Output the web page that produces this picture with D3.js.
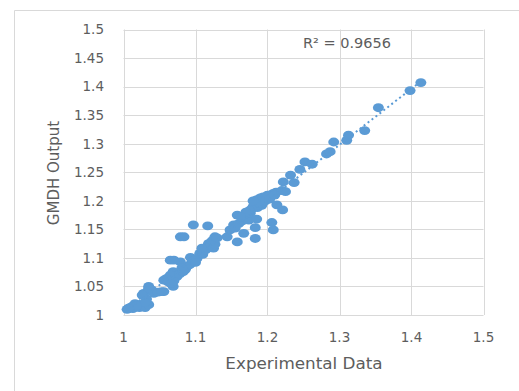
<!DOCTYPE html>
<html>
<head>
<meta charset="utf-8">
<script src="https://cdn.jsdelivr.net/npm/d3@7"></script>
<style>
  body { margin: 0; background: #fff; }
  text { font-family: "DejaVu Sans", sans-serif; fill: #5d5d5d; }
</style>
</head>
<body>
<div id="chart"></div>
<script>
// experimental data (x) vs GMDH output (y)
var expX = [1.005,1.008,1.012,1.016,1.020,1.013,1.022,1.026,1.030,1.035,1.032,1.028,1.035,1.038,1.042,1.048,1.056,1.030,1.018,1.007,1.035,1.026,1.053,
  1.060,1.056,1.062,1.069,1.066,1.070,1.074,1.069,1.065,1.078,1.083,1.088,1.086,1.092,1.079,1.065,1.070,1.093,1.097,1.102,1.100,1.106,1.110,1.114,1.118,1.120,1.125,1.127,1.123,1.127,1.130,1.079,1.084,1.097,1.117,1.081,1.109,
  1.144,1.148,1.153,1.155,1.160,1.158,1.167,1.158,1.165,1.170,1.174,1.176,1.178,1.180,1.182,1.185,1.188,1.190,1.186,1.192,1.195,1.194,1.198,1.200,1.185,1.183,1.183,1.206,1.208,1.213,1.221,1.208,1.212,1.220,1.225,1.222,1.237,1.232,1.245,1.252,1.262,1.282,1.287,1.292,1.310,1.3125,1.335,1.354,1.398,1.413,
  1.175,1.190,1.180,1.197,1.170,1.163,1.203,1.210];
var gmdhY = [1.010,1.012,1.015,1.020,1.018,1.011,1.013,1.015,1.013,1.018,1.028,1.038,1.050,1.045,1.038,1.040,1.041,1.022,1.016,1.012,1.047,1.035,1.041,
  1.064,1.061,1.058,1.050,1.055,1.060,1.067,1.076,1.070,1.072,1.076,1.085,1.080,1.088,1.093,1.096,1.096,1.101,1.095,1.099,1.092,1.108,1.106,1.114,1.125,1.120,1.117,1.124,1.130,1.137,1.135,1.137,1.137,1.158,1.156,1.082,1.117,
  1.137,1.149,1.158,1.152,1.160,1.128,1.143,1.175,1.165,1.170,1.166,1.178,1.185,1.190,1.195,1.202,1.198,1.205,1.188,1.192,1.200,1.207,1.205,1.210,1.168,1.153,1.134,1.162,1.149,1.193,1.184,1.213,1.215,1.218,1.216,1.233,1.232,1.245,1.255,1.268,1.264,1.282,1.286,1.303,1.306,1.315,1.323,1.363,1.393,1.407,
  1.183,1.195,1.200,1.200,1.180,1.172,1.203,1.210];
var xTicks = [1, 1.1, 1.2, 1.3, 1.4, 1.5];
var yTicks = [1, 1.05, 1.1, 1.15, 1.2, 1.25, 1.3, 1.35, 1.4, 1.45, 1.5];
var r2Label = "R² = 0.9656";

var width = 519, height = 391;
var mLeft = 123.5, mRight = 483.5, mTop = 29.5, mBottom = 315;

var svg = d3.select("#chart").append("svg")
    .attr("width", width)
    .attr("height", height);

// outer chart border
svg.append("path")
    .attr("d", "M14.5," + height + "V10.5H" + width)
    .attr("fill", "none")
    .attr("stroke", "#d9d9d9");

var x = d3.scaleLinear().domain([1, 1.5]).range([mLeft, mRight]);
var y = d3.scaleLinear().domain([1, 1.5]).range([mBottom, mTop]);

// gridlines
svg.append("g").selectAll("line").data(xTicks).enter().append("line")
    .attr("x1", function(d) { return Math.round(x(d)) + 0.5; })
    .attr("x2", function(d) { return Math.round(x(d)) + 0.5; })
    .attr("y1", mTop).attr("y2", mBottom)
    .attr("stroke", "#d9d9d9");
svg.append("g").selectAll("line").data(yTicks).enter().append("line")
    .attr("y1", function(d) { return Math.round(y(d)) + 0.5; })
    .attr("y2", function(d) { return Math.round(y(d)) + 0.5; })
    .attr("x1", mLeft).attr("x2", mRight)
    .attr("stroke", "#d9d9d9");

// tick labels
svg.append("g").selectAll("text").data(xTicks).enter().append("text")
    .attr("x", function(d) { return x(d); })
    .attr("y", 342)
    .attr("text-anchor", "middle")
    .style("font-size", "13.5px")
    .text(function(d) { return d; });
svg.append("g").selectAll("text").data(yTicks).enter().append("text")
    .attr("x", 104)
    .attr("y", function(d) { return y(d) + 4.8; })
    .attr("text-anchor", "end")
    .style("font-size", "13.5px")
    .text(function(d) { return d; });

// axis titles
svg.append("text")
    .attr("transform", "translate(304,369) scale(1.12,1)")
    .attr("text-anchor", "middle")
    .style("font-size", "15px")
    .text("Experimental Data");
svg.append("text")
    .attr("transform", "translate(59,173) rotate(-90)")
    .attr("text-anchor", "middle")
    .style("font-size", "15px")
    .text("GMDH Output");

var points = expX.map(function(d, i) { return {x: d, y: gmdhY[i]}; });

// points
svg.append("g").selectAll("ellipse").data(points).enter().append("ellipse")
    .attr("cx", function(d) { return x(d.x); })
    .attr("cy", function(d) { return y(d.y); })
    .attr("rx", 5.5)
    .attr("ry", 4.4)
    .attr("fill", "#5b9bd5");

// linear trendline
var mx = d3.mean(expX), my = d3.mean(gmdhY);
var sxy = d3.sum(points, function(d) { return (d.x - mx) * (d.y - my); });
var sxx = d3.sum(points, function(d) { return (d.x - mx) * (d.x - mx); });
var slope = sxy / sxx, icpt = my - slope * mx;
var x0 = d3.min(expX), x1 = d3.max(expX);
svg.append("line")
    .attr("x1", x(x0)).attr("y1", y(icpt + slope * x0))
    .attr("x2", x(x1)).attr("y2", y(icpt + slope * x1))
    .attr("stroke", "#5b9bd5")
    .attr("stroke-width", 2)
    .attr("stroke-dasharray", "2,3");

svg.append("text")
    .attr("x", 303).attr("y", 48)
    .style("font-size", "14.5px")
    .text(r2Label);
</script>
</body>
</html>
